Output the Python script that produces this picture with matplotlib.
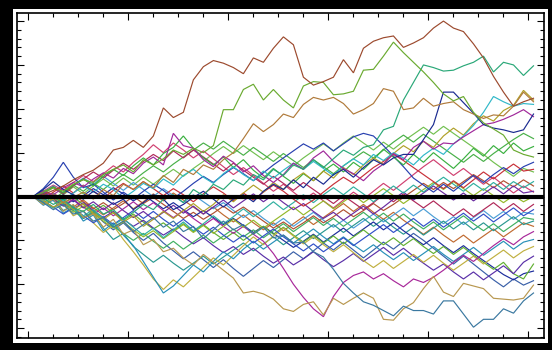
import numpy as np
import matplotlib
matplotlib.use("Agg")
import matplotlib.pyplot as plt
from matplotlib.patches import Rectangle
from matplotlib.ticker import MultipleLocator, NullFormatter

# step index of every sample (every second step of a 100-step walk)
steps = list(range(1, 102, 2))

# --- prominent walks ---
walk_brown = [0, 0.2, 0.7, 1.2, 1.9, 2.5, 3.0, 3.8, 5.3, 5.6, 6.4, 5.6, 6.9, 10.1, 9.0, 9.6, 13.3, 14.8, 15.5, 15.2,
              14.7, 14.0, 15.8, 15.3, 16.9, 18.2, 17.3, 13.6, 12.7, 13.1, 13.6, 15.6, 14.1, 16.9, 17.7, 18.1, 18.3, 17.0,
              17.5, 18.1, 19.2, 20.0, 19.2, 18.8, 17.4, 15.8, 13.7, 11.9, 10.3, 10.8, 11.2]
walk_lime = [0, 0.5, 1.0, 0.6, 1.4, 1.9, 1.6, 2.5, 3.1, 3.6, 2.8, 4.2, 3.6, 4.3, 5.3, 4.8, 5.5, 5.0, 5.8, 9.9,
             9.9, 12.2, 12.8, 11.0, 12.2, 11.0, 10.1, 12.6, 13.1, 13.0, 11.6, 11.7, 12.0, 14.4, 14.5, 16.0, 17.6, 16.4,
             15.3, 14.2, 13.0, 11.7, 10.9, 11.4, 9.6, 8.4, 7.7, 7.0, 5.3, 4.8, 4.5]
walk_tan = [0, -0.3, 0.2, -0.7, -0.1, 0.5, -0.3, 0.8, 0.1, 1.4, 0.8, 1.7, 1.0, 2.4, 1.6, 3.1, 2.5, 3.6, 3.1, 4.2,
            5.0, 6.6, 8.3, 7.4, 8.2, 9.4, 9.0, 10.5, 11.3, 11.0, 11.3, 10.6, 9.4, 9.9, 10.6, 12.3, 12.0, 9.9, 10.1,
            11.2, 10.3, 10.6, 10.8, 9.9, 9.4, 8.9, 9.3, 9.2, 10.3, 11.9, 10.8]
walk_seagreen = [0, -0.2, -0.9, -0.3, -1.3, -1.7, -0.9, -2.0, -1.5, -2.6, -1.8, -0.9, -1.5, -0.3, 0.2, -0.7, 0.8, 0.1,
                 1.4, 0.8, 1.9, 1.3, 2.5, 1.9, 3.1, 2.4, 3.6, 3.1, 4.2, 3.3, 4.3, 5.3, 4.7, 5.6, 5.9, 7.6, 8.0, 11.0,
                 13.0, 15.0, 14.7, 14.3, 14.4, 14.9, 15.3, 16.0, 14.2, 15.3, 15.0, 13.8, 14.9]
walk_navy = [0, 0.8, 1.7, 0.8, 0.2, -0.3, 0.6, -0.1, -0.9, -0.3, -1.5, -0.7, 0.2, -0.3, -1.5, -0.9, -0.1, 0.6, -0.3,
             -1.2, -0.3, 0.2, -0.6, 0.6, 1.4, 0.8, 1.9, 1.0, 2.2, 1.4, 2.5, 3.1, 2.2, 3.3, 4.2, 3.6, 4.4, 4.8, 4.8,
             6.5, 8.2, 11.9, 11.9, 10.7, 9.5, 8.2, 7.8, 7.6, 7.3, 7.6, 9.4]
walk_steel = [0, -0.7, -1.5, -0.9, -2.0, -1.7, -2.8, -2.4, -3.5, -2.8, -4.0, -3.2, -2.4, -3.5, -2.8, -4.0, -3.4, -4.8,
              -3.8, -2.8, -3.8, -3.2, -4.3, -3.5, -4.7, -4.4, -5.3, -5.2, -6.3, -6.9, -8.3, -9.9, -11.0, -12.0, -12.4,
              -13.0, -13.6, -12.5, -13.0, -13.0, -13.4, -11.9, -11.9, -13.4, -14.9, -14.0, -14.0, -12.8, -13.3, -11.9,
              -11.0]
walk_khaki = [0, -0.9, -0.3, -1.7, -0.9, -2.4, -2.0, -3.5, -2.6, -4.3, -3.8, -5.5, -4.9, -6.3, -5.9, -7.0, -7.8, -6.6,
              -7.5, -8.4, -9.3, -11.0, -10.8, -11.1, -11.7, -12.8, -13.1, -12.3, -12.0, -13.5, -11.6, -12.3, -11.6,
              -11.0, -11.6, -14.0, -14.1, -12.8, -12.1, -10.5, -9.1, -10.9, -11.4, -9.9, -10.2, -10.5, -11.6, -11.7,
              -11.8, -11.6, -10.1]

# --- walks in the central bundle ---
walk_m01 = [0, 0.6, 0.2, 1.0, 1.6, 1.1, 2.0, 2.7, 2.1, 3.2, 2.6, 3.8, 4.5, 3.6, 7.2, 5.8, 5.5, 4.2, 3.4, 4.6,
            3.9, 2.8, 3.5, 2.4, 1.6, 2.5, 3.8, 3.1, 4.4, 5.2, 4.0, 3.2, 2.6, 1.8, 2.9, 3.7, 4.9, 4.2, 5.6, 6.3,
            5.4, 6.1, 6.0, 6.8, 7.5, 8.2, 8.4, 8.8, 9.3, 9.9, 9.1]
walk_m02 = [0, -0.4, 0.3, -0.5, 0.4, 1.2, 0.5, 1.4, 0.8, -0.2, 0.6, 1.5, 0.9, 2.0, 1.3, 2.4, 3.1, 2.2, 1.5, 2.6,
            3.4, 2.5, 1.8, 2.9, 2.1, 3.0, 3.8, 3.1, 4.0, 3.2, 2.4, 3.5, 4.3, 3.6, 4.8, 4.1, 5.0, 4.4, 3.6, 4.7,
            5.5, 4.8, 6.0, 6.9, 8.1, 9.6, 11.4, 10.8, 10.3, 10.6, 10.5]
walk_m03 = [0, -0.5, -1.2, -0.6, -1.5, -0.8, -1.9, -2.6, -1.8, -2.9, -2.2, -3.4, -2.6, -1.7, -2.5, -1.6, -0.8, -1.7,
            -0.9, 0.2, -0.6, 0.4, 1.3, 0.5, 1.6, 0.8, 1.9, 2.7, 1.8, 2.9, 2.1, 3.3, 2.5, 3.6, 4.4, 3.7, 4.9, 5.8,
            5.1, 6.3, 5.6, 6.9, 7.8, 7.0, 8.3, 9.2, 8.6, 9.8, 10.4, 12.1, 11.0]
walk_m04 = [0, 0.5, 1.1, 0.4, 1.3, 2.0, 1.2, 2.3, 3.1, 2.4, 3.5, 4.4, 3.6, 4.9, 5.6, 6.9, 5.5, 4.4, 3.6, 4.5,
            3.3, 4.2, 3.0, 2.1, 3.2, 2.3, 1.5, 2.6, 1.8, 2.9, 3.7, 2.8, 3.9, 3.1, 4.2, 5.4, 4.5, 3.6, 4.8, 3.9,
            5.0, 4.1, 3.2, 4.3, 5.5, 4.6, 5.8, 4.9, 6.1, 5.2, 5.7]
walk_m05 = [0, 0.9, 2.2, 3.9, 2.2, 1.0, 1.4, 0.5, -0.4, 0.5, -0.3, 0.6, 1.4, 0.7, -0.2, 0.6, 1.5, 2.3, 1.6, 2.5,
            3.3, 2.6, 1.8, 2.7, 3.6, 4.4, 5.2, 6.0, 5.4, 6.1, 5.2, 6.0, 6.8, 7.2, 6.9, 5.8, 4.6, 3.4, 2.1, 1.3,
            0.5, 1.4, 0.6, 1.5, 2.4, 1.6, 2.5, 3.3, 2.6, 3.4, 3.9]
walk_m06 = [0, -0.3, 0.5, 1.2, 0.4, 1.3, 0.6, -0.2, 0.7, 1.5, 0.8, 1.7, 0.9, 0.1, 0.9, 0.2, -0.6, 0.3, 1.1, 0.4,
            -0.5, 0.4, -0.4, 0.5, 1.3, 0.6, -0.3, -1.1, -0.4, 0.5, 1.4, 2.2, 1.5, 2.4, 3.3, 4.0, 4.8, 4.1, 3.3, 2.5,
            1.7, 0.9, 1.8, 1.0, 1.9, 2.8, 2.0, 2.9, 3.7, 2.9, 3.1]
walk_m07 = [0, -0.6, -1.3, -0.5, -1.4, -2.2, -1.5, -2.5, -3.3, -2.5, -3.5, -4.4, -3.6, -4.7, -3.8, -2.9, -3.9, -3.1,
            -2.2, -3.1, -2.3, -1.4, -2.3, -1.5, -0.6, -1.5, -0.7, 0.2, -0.7, 0.2, 1.0, 0.2, 1.1, 0.3, -0.6, 0.3, 1.2,
            0.4, 1.3, 0.5, 1.4, 2.2, 1.4, 0.6, 1.5, 0.7, 1.6, 0.8, 1.7, 1.0, 1.7]
walk_m08 = [0, 0.5, -0.3, -1.1, -0.4, -1.3, -0.6, -1.5, -0.7, -1.6, -2.4, -1.7, -2.6, -1.8, -1.0, -1.9, -1.1, -2.0,
            -1.2, -0.4, -1.3, -0.5, 0.3, -0.6, 0.2, -0.7, -1.5, -0.8, -1.7, -2.5, -1.8, -2.7, -1.9, -1.1, -2.0, -1.2,
            -0.3, 0.5, -0.4, 0.4, 1.2, 0.4, -0.4, 0.4, -0.5, 0.3, 1.1, 0.3, 1.2, 0.4, 0.6]
walk_m09 = [0, -0.8, -0.2, -1.0, -1.8, -1.1, -2.0, -2.8, -3.6, -2.9, -3.8, -4.6, -3.9, -4.8, -4.0, -3.2, -4.1, -3.3,
            -4.2, -3.4, -2.6, -3.5, -2.7, -3.6, -2.8, -2.0, -1.2, -2.1, -1.3, -0.5, -1.4, -0.6, 0.2, -0.7, 0.1, 0.9,
            0.1, -0.8, 0.0, 0.8, 1.6, 0.8, 1.7, 0.9, 0.1, 0.9, 0.1, -0.7, 0.1, -0.6, 0.0]
walk_m10 = [0, 0.4, 1.1, 0.3, 1.2, 2.0, 2.8, 2.1, 3.0, 3.8, 3.1, 4.0, 4.8, 4.1, 5.2, 4.4, 5.3, 4.5, 3.7, 2.9,
            3.8, 3.0, 2.2, 1.4, 2.3, 1.5, 0.7, 1.6, 0.8, 0.0, -0.8, 0.1, -0.7, -1.5, -0.7, 0.2, -0.6, 0.3, -0.5,
            -1.3, -0.5, -1.4, -2.2, -1.4, -2.3, -1.5, -0.7, -1.6, -0.8, -1.7, -0.9]
walk_m11 = [0, -0.5, -1.2, -2.0, -1.3, -2.2, -3.0, -2.3, -3.2, -2.4, -1.6, -2.5, -1.7, -2.6, -3.4, -2.6, -3.5, -4.3,
            -3.5, -4.4, -5.2, -4.4, -5.3, -4.5, -3.7, -4.6, -5.4, -6.2, -5.4, -6.3, -5.5, -4.7, -5.6, -4.8, -4.0,
            -3.2, -4.1, -3.3, -2.5, -3.4, -2.6, -3.5, -2.7, -1.9, -2.8, -2.0, -2.9, -2.1, -1.3, -2.2, -1.5]
walk_m12 = [0, -0.7, 0.0, -0.8, -1.6, -2.4, -1.7, -2.6, -3.4, -4.2, -5.0, -4.2, -5.1, -5.9, -5.1, -6.0, -5.2, -4.4,
            -5.3, -4.5, -3.7, -4.6, -3.8, -4.7, -3.9, -3.1, -4.0, -3.2, -2.4, -3.3, -2.5, -3.4, -2.6, -1.8, -2.7,
            -1.9, -2.8, -2.0, -2.9, -3.7, -2.9, -3.8, -3.0, -2.2, -3.1, -3.9, -3.1, -4.0, -3.2, -2.4, -2.6]
walk_m13 = [0, 0.6, -0.2, -1.0, -0.3, -1.2, -2.0, -1.3, -2.2, -1.4, -0.6, -1.5, -0.7, -1.6, -2.4, -1.6, -2.5, -3.3,
            -2.5, -3.4, -4.2, -3.4, -4.3, -5.1, -6.5, -8.2, -10.0, -11.5, -12.8, -13.7, -11.4, -9.8, -9.0, -8.6,
            -9.4, -8.8, -9.6, -10.3, -9.4, -9.8, -9.2, -8.4, -7.5, -6.7, -7.4, -6.5, -5.6, -4.8, -5.5, -4.6, -4.0]
walk_m14 = [0, -1.0, -0.4, -1.9, -1.2, -2.8, -2.1, -3.9, -3.0, -4.4, -5.6, -7.4, -9.2, -11.0, -10.2, -9.0, -7.8,
            -8.6, -7.4, -6.3, -7.1, -6.0, -5.1, -6.0, -5.2, -4.4, -5.3, -4.5, -3.7, -4.6, -5.4, -4.6, -5.5, -6.3,
            -5.5, -6.4, -7.2, -6.4, -7.3, -6.5, -5.7, -6.6, -7.4, -6.6, -5.8, -6.7, -5.9, -5.1, -6.0, -5.2, -4.9]
walk_m15 = [0, -0.4, -1.3, -0.7, -2.2, -1.6, -3.0, -4.1, -3.3, -4.9, -6.3, -7.8, -9.4, -10.6, -9.5, -10.3, -9.2,
            -8.1, -7.0, -7.8, -6.7, -5.6, -4.6, -5.5, -4.5, -3.6, -4.5, -5.4, -4.6, -5.5, -6.3, -5.5, -6.4, -7.3,
            -8.1, -7.3, -8.2, -7.4, -6.6, -7.5, -6.7, -7.6, -8.4, -7.6, -6.8, -7.7, -6.9, -6.1, -7.0, -6.2, -5.7]
walk_m16 = [0, -0.5, 0.2, -0.6, -1.4, -0.7, -1.6, -2.4, -1.7, -2.6, -3.4, -2.7, -3.6, -4.4, -3.7, -4.6, -5.4, -4.7,
            -5.6, -6.4, -5.7, -6.6, -5.9, -6.8, -7.6, -6.9, -7.8, -7.1, -6.3, -7.2, -8.0, -7.3, -6.5, -7.4, -6.6,
            -5.8, -6.7, -5.9, -6.8, -7.6, -8.4, -7.7, -8.6, -9.4, -8.6, -9.5, -8.7, -7.9, -8.8, -7.5, -6.8]
walk_m17 = [0, 0.7, 0.0, -0.8, -0.1, -0.9, -1.7, -1.0, -1.9, -2.7, -2.0, -2.9, -3.7, -3.0, -3.9, -3.1, -4.0, -3.2,
            -4.1, -4.9, -4.1, -5.0, -4.2, -3.4, -4.3, -3.5, -4.4, -5.2, -4.4, -5.3, -4.5, -5.4, -4.6, -3.8, -4.7,
            -5.5, -4.7, -5.6, -4.8, -5.7, -6.5, -5.7, -6.6, -5.8, -6.7, -7.5, -8.3, -7.5, -8.8, -9.4, -7.7]
walk_m18 = [0, 0.3, -0.5, 0.2, -0.6, 0.1, 0.9, 0.2, 1.0, 0.3, -0.5, 0.2, -0.6, -1.4, -0.7, -1.5, -2.3, -1.6, -2.4,
            -3.2, -2.5, -3.3, -4.1, -3.4, -4.2, -5.0, -5.8, -5.1, -4.3, -5.2, -4.4, -3.6, -4.5, -3.7, -2.9, -3.8,
            -3.0, -3.9, -4.7, -5.5, -4.7, -5.6, -6.4, -5.6, -6.5, -7.3, -8.1, -8.9, -9.5, -8.8, -8.5]
walk_m19 = [0, 0.4, -0.3, 0.5, 1.3, 0.6, 1.5, 0.8, 1.7, 2.5, 1.8, 2.7, 3.5, 2.8, 3.7, 4.5, 5.3, 6.1, 5.4, 6.3,
            5.5, 4.7, 5.6, 4.8, 4.0, 4.9, 4.1, 3.3, 4.2, 3.4, 2.6, 3.5, 4.3, 5.1, 4.4, 5.3, 6.2, 7.0, 6.2, 7.1,
            6.3, 5.5, 4.7, 3.9, 4.8, 4.0, 4.9, 5.7, 6.5, 7.2, 6.6]
walk_m20 = [0, -0.4, 0.3, -0.5, 0.2, -0.6, -1.4, -0.7, -1.5, -0.8, 0.0, -0.8, -0.1, -0.9, -1.7, -2.5, -1.8, -2.6,
            -1.9, -1.1, -1.9, -1.2, -2.0, -2.8, -3.6, -2.9, -3.7, -3.0, -2.2, -3.0, -2.3, -1.5, -2.3, -1.6, -0.8,
            -1.6, -0.9, -0.1, 0.7, 1.5, 0.8, 1.6, 0.9, 1.7, 2.5, 1.8, 1.0, 1.8, 1.1, 1.9, 1.2]
walk_m21 = [0, -0.9, -0.3, -1.6, -1.0, -2.5, -1.9, -3.6, -4.9, -4.2, -5.7, -6.6, -7.5, -6.7, -7.6, -8.4, -7.6, -6.8,
            -7.7, -6.9, -6.1, -5.3, -6.2, -5.4, -4.6, -5.5, -4.7, -3.9, -4.8, -4.0, -3.2, -4.1, -3.3, -2.5, -3.4,
            -2.6, -3.5, -4.3, -3.5, -4.4, -3.6, -2.8, -3.7, -2.9, -3.8, -3.0, -3.9, -3.1, -2.3, -3.2, -2.8]
walk_m22 = [0, 0.5, 1.2, 0.4, 1.3, 2.1, 1.4, 2.3, 1.5, 0.7, 1.6, 0.8, 0.0, 0.9, 0.1, -0.7, 0.2, -0.6, -1.4, -0.7,
            -1.6, -2.4, -1.6, -2.5, -3.3, -2.5, -3.4, -2.6, -1.8, -2.7, -3.5, -2.7, -3.6, -2.8, -2.0, -2.9, -2.1,
            -1.3, -2.2, -1.4, -2.3, -3.1, -2.3, -3.2, -2.4, -1.6, -2.5, -1.7, -2.6, -1.8, -2.0]
walk_m23 = [0, 0.6, 1.3, 0.7, 1.6, 2.4, 1.7, 2.6, 3.5, 2.8, 3.9, 4.8, 5.9, 5.0, 6.1, 5.3, 4.4, 5.2, 4.3, 3.4,
            2.5, 3.3, 2.4, 1.5, 0.6, 1.4, 0.5, -0.4, 0.4, -0.5, -1.3, -0.4, 0.5, -0.3, 0.6, 1.5, 0.7, 1.6, 2.5, 3.4,
            4.2, 3.3, 2.4, 3.2, 2.3, 1.4, 2.2, 1.3, 0.4, 1.2, 0.5]
walk_m24 = [0, -0.5, -1.3, -0.6, -1.6, -2.5, -1.8, -2.9, -3.8, -3.0, -4.1, -5.0, -4.2, -5.3, -6.2, -7.1, -6.3, -7.2,
            -8.1, -7.2, -8.2, -9.1, -8.2, -7.3, -8.1, -7.2, -6.3, -7.1, -6.2, -5.3, -6.1, -5.2, -6.1, -7.0, -6.1,
            -5.2, -6.0, -5.1, -4.2, -5.0, -5.9, -6.8, -7.7, -6.8, -7.7, -8.6, -9.5, -10.3, -9.4, -10.1, -9.6]
walk_m25 = [0, 0.3, 1.0, 0.2, 1.1, 0.3, 1.2, 2.0, 1.2, 2.1, 1.3, 2.2, 1.4, 2.3, 3.1, 2.3, 3.2, 4.0, 4.9, 5.7,
            4.9, 5.8, 5.0, 4.2, 5.1, 4.3, 3.5, 4.4, 5.2, 6.0, 5.2, 6.1, 6.9, 6.1, 5.3, 6.2, 5.4, 6.3, 7.1, 7.9,
            7.1, 8.0, 7.2, 6.4, 5.6, 4.8, 3.9, 3.1, 2.3, 3.2, 2.8]
walk_m26 = [0, -0.3, 0.4, -0.4, -1.2, -0.4, -1.3, -2.1, -1.3, -0.5, -1.4, -0.6, 0.3, -0.5, 0.4, -0.4, -1.2, -2.0,
            -1.2, -2.1, -2.9, -2.1, -3.0, -3.8, -3.0, -3.9, -3.1, -2.3, -3.2, -2.4, -1.6, -0.8, -1.7, -0.9, -1.8,
            -2.6, -1.8, -2.7, -3.5, -4.3, -3.5, -4.4, -5.2, -4.4, -5.3, -4.5, -3.7, -4.6, -3.8, -3.0, -3.4]

walks = [
    (walk_m26, "#c06a30"), (walk_m25, "#72c050"), (walk_m24, "#3a60a8"), (walk_m23, "#d04070"),
    (walk_m22, "#4a9ed6"), (walk_m21, "#2a9890"), (walk_m20, "#b05030"), (walk_m19, "#48b048"),
    (walk_m18, "#1c2c9c"), (walk_m17, "#62b032"), (walk_m16, "#5a30a8"), (walk_m15, "#c0b040"),
    (walk_m14, "#2890b8"), (walk_m13, "#a8289a"), (walk_m12, "#40b060"), (walk_m11, "#3050c8"),
    (walk_m10, "#b02858"), (walk_m09, "#94b82a"), (walk_m08, "#6a2aa0"), (walk_m07, "#30b0a0"),
    (walk_m06, "#c83038"), (walk_m05, "#2840b0"), (walk_m04, "#3ab040"), (walk_m03, "#b0a028"),
    (walk_m02, "#30b8c8"), (walk_m01, "#a0289a"),
    (walk_khaki, "#b89850"), (walk_steel, "#3a78a0"), (walk_navy, "#1a2a90"),
    (walk_seagreen, "#2aa878"), (walk_tan, "#b07a3a"), (walk_lime, "#6aaa30"), (walk_brown, "#9c4a2e"),
]

fig = plt.figure(figsize=(5.52, 3.5), dpi=100, facecolor="black")
bg = Rectangle((13 / 552, 7 / 350), 535 / 552, 334 / 350,
               transform=fig.transFigure, facecolor="white", edgecolor="none", zorder=-10)
fig.add_artist(bg)
ax = fig.add_axes([17 / 552, 12 / 350, 527 / 552, 325 / 350], zorder=5)
ax.set_facecolor("white")

for vals, col in walks:
    ax.plot(steps[:len(vals)], vals, color=col, lw=0.85, solid_joinstyle="miter")

ax.axhline(0, color="black", lw=3.0, zorder=10)

ax.set_xlim(-2.26, 103.1)
ax.set_ylim(-16.13, 20.92)
ax.xaxis.set_major_locator(MultipleLocator(20))
ax.xaxis.set_minor_locator(MultipleLocator(5))
ax.yaxis.set_major_locator(MultipleLocator(5))
ax.yaxis.set_minor_locator(MultipleLocator(1))
ax.xaxis.set_major_formatter(NullFormatter())
ax.yaxis.set_major_formatter(NullFormatter())
ax.tick_params(which="both", direction="in", top=True, right=True, color="black", width=0.8)
ax.tick_params(which="major", length=5)
ax.tick_params(which="minor", length=3)
for s in ax.spines.values():
    s.set_linewidth(1.2)
    s.set_color("black")

fig.savefig("out.png", dpi=100, facecolor="black")
